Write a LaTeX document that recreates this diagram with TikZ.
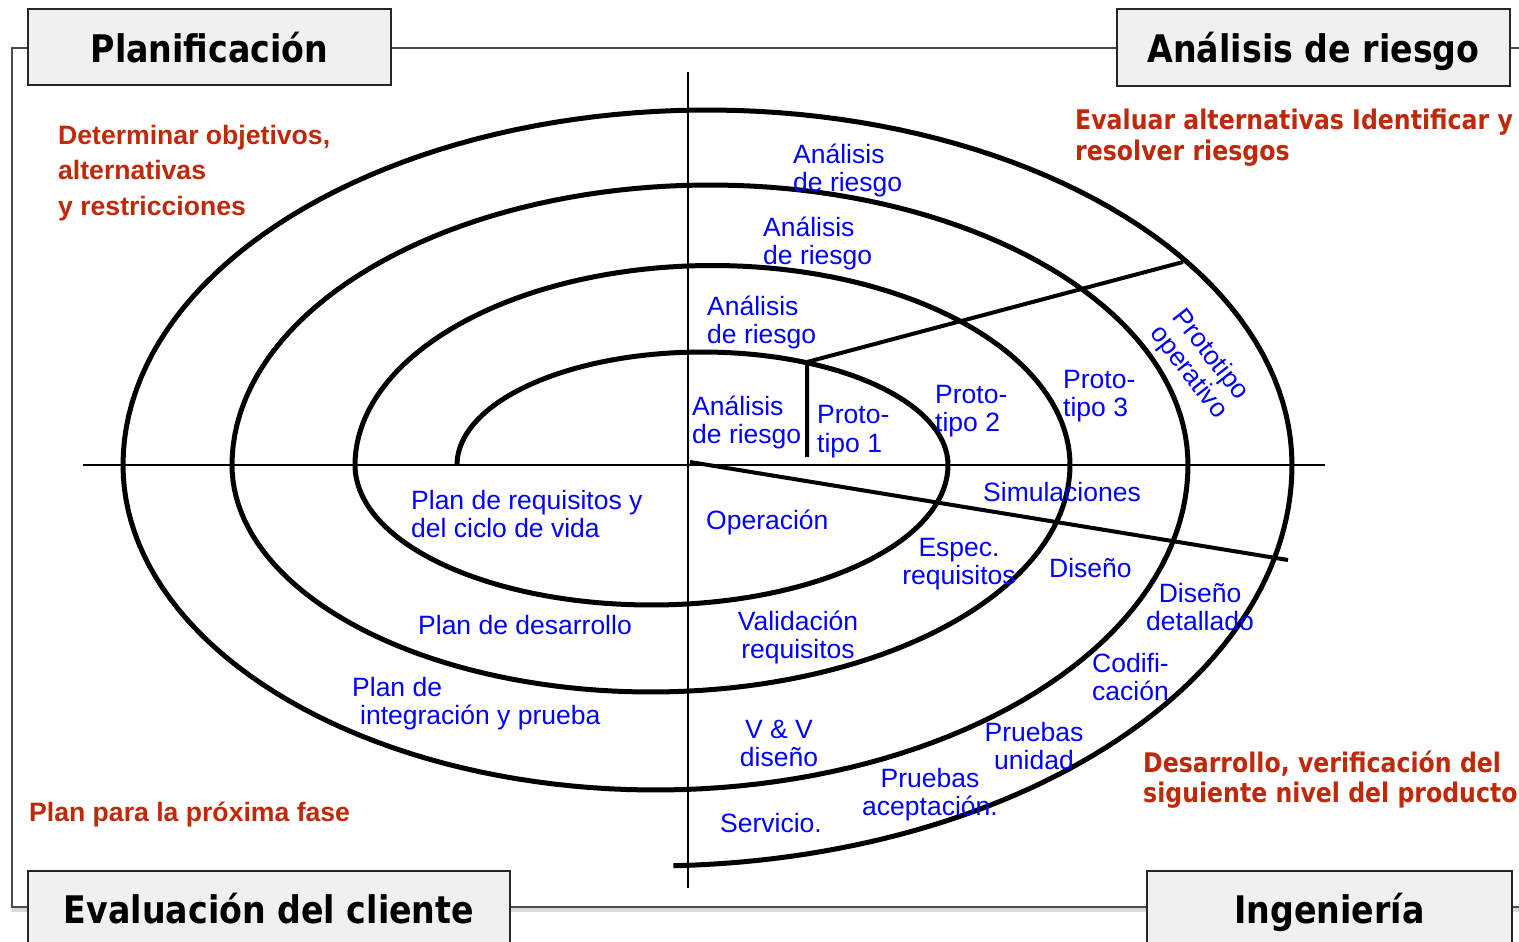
\documentclass[tikz,border=0pt]{standalone}
\usepackage{fontspec}
\setmainfont{Liberation Sans}
\newfontfamily\tah{DejaVu Sans}[FakeStretch=0.875]
\definecolor{redt}{HTML}{C0280A}
\definecolor{bluet}{HTML}{0000FF}
\definecolor{boxfill}{HTML}{F0F0F0}
\begin{document}
\begin{tikzpicture}[x=1pt,y=-1pt,
  hdr/.style={draw=black!85, line width=2pt, fill=boxfill, inner sep=0pt, anchor=north,
    font=\tah\bfseries\fontsize{38}{44}\selectfont},
  bt/.style={text=bluet, inner sep=0pt, anchor=base west, font=\fontsize{26.5}{28}\selectfont},
  btc/.style={bt, anchor=base},
  rt/.style={text=redt, inner sep=0pt, anchor=base west, font=\bfseries\fontsize{26.6}{33}\selectfont},
  rtt/.style={text=redt, inner sep=0pt, anchor=base west, font=\tah\bfseries\fontsize{27}{31}\selectfont},
  spiral/.style={line width=5pt},
  axisline/.style={line width=2pt},
  radial/.style={line width=4pt},
  frameline/.style={line width=1.5pt, draw=black!70}]
\useasboundingbox (0,0) rectangle (1519,942);
\fill[white] (0,0) rectangle (1519,942);

% frame
\coordinate (ftl) at (12,48);
\coordinate (ftr) at (1519,48);
\coordinate (fbl) at (12,907);
\coordinate (fbr) at (1519,907);
\draw[line width=4pt, draw=black!15] (12,910) -- (1519,910);
\draw[frameline] (ftr) -- (ftl) -- (fbl) -- (fbr);

% axes
\coordinate (hl) at (83,465);
\coordinate (hr) at (1325,465);
\coordinate (vt) at (688,72);
\coordinate (vb) at (688,888);
\draw[axisline] (hl) -- (hr);
\draw[axisline] (vt) -- (vb);

% spiral
\draw[spiral] plot[domain=180:0, samples=90] ({702.5+245.5*cos(\x)}, {465-113*sin(\x)});
\draw[spiral] plot[domain=0:180, samples=90] ({651.5+296.5*cos(\x)}, {465+140*sin(\x)});
\draw[spiral] plot[domain=180:0, samples=90] ({712.5+357.5*cos(\x)}, {465-199.5*sin(\x)});
\draw[spiral] plot[domain=0:180, samples=90] ({651+419*cos(\x)}, {465+227*sin(\x)});
\draw[spiral] plot[domain=180:0, samples=90] ({710+478*cos(\x)}, {465-280*sin(\x)});
\draw[spiral] plot[domain=0:180, samples=90] ({655.5+532.5*cos(\x)}, {465+325*sin(\x)});
\draw[spiral] plot[domain=180:0, samples=90] ({707.5+584.5*cos(\x)}, {465-355*sin(\x)});
\draw[spiral] plot[domain=0:88, samples=60] ({651+641*cos(\x)}, {465+401*sin(\x)});

% radial lines
\coordinate (r0) at (807,362);
\coordinate (r1) at (807,457);
\coordinate (r2) at (1183,262);
\coordinate (s0) at (690,462);
\coordinate (s1) at (1288,560);
\draw[radial] (r1) -- (r0) -- (r2);
\draw[radial] (s0) -- (s1);

% header boxes
\node[hdr, minimum width=363pt, text height=54pt, text depth=22pt] (plan) at (209.5,8) {Planificaci\'on};
\node[hdr, minimum width=393pt, text height=54pt, text depth=23pt] (anal) at (1313.5,8) {An\'alisis de riesgo};
\node[hdr, minimum width=482pt, text height=52pt, text depth=30pt] (eval) at (269,870) {Evaluaci\'on del cliente};
\node[hdr, minimum width=365pt, text height=52pt, text depth=30pt] (ing) at (1329.5,870) {Ingenier\'ia};

% red texts
\node[rt] (d1) at (58,144) {Determinar objetivos,};
\node[rt] (d2) at (58,179.5) {alternativas};
\node[rt] (d3) at (58,215) {y restricciones};
\node[rt] (pp) at (29,821) {Plan para la pr\'oxima fase};
\node[rtt] (e1) at (1075,129) {Evaluar alternativas Identificar y};
\node[rtt] (e2) at (1075,160) {resolver riesgos};
\node[rtt] (v1) at (1143,772) {Desarrollo, verificaci\'on del};
\node[rtt] (v2) at (1143,802) {siguiente nivel del producto};

% blue texts
\node[bt] (a1a) at (793,163) {An\'alisis};
\node[bt] (a1b) at (793,191) {de riesgo};
\node[bt] (a2a) at (763,236) {An\'alisis};
\node[bt] (a2b) at (763,264) {de riesgo};
\node[bt] (a3a) at (707,315) {An\'alisis};
\node[bt] (a3b) at (707,343) {de riesgo};
\node[bt] (a4a) at (692,415) {An\'alisis};
\node[bt] (a4b) at (692,443) {de riesgo};
\node[bt] (p1a) at (817,423) {Proto-};
\node[bt] (p1b) at (817,452) {tipo 1};
\node[bt] (p2a) at (935,403) {Proto-};
\node[bt] (p2b) at (935,431) {tipo 2};
\node[bt] (p3a) at (1063,388) {Proto-};
\node[bt] (p3b) at (1063,416) {tipo 3};
\node[bt, anchor=center, rotate=-52, align=center] (pop) at (1199,364) {Prototipo\\operativo};
\node[bt] (sim) at (983,501) {Simulaciones};
\node[bt] (ope) at (706,529) {Operaci\'on};
\node[bt] (pr1) at (411,509) {Plan de requisitos y};
\node[bt] (pr2) at (411,537) {del ciclo de vida};
\node[btc] (es1) at (959,556) {Espec.};
\node[btc] (es2) at (959,584) {requisitos};
\node[bt] (dis) at (1049,577) {Dise\~no};
\node[btc] (dd1) at (1200,602) {Dise\~no};
\node[btc] (dd2) at (1200,630) {detallado};
\node[bt] (co1) at (1092,672) {Codifi-};
\node[bt] (co2) at (1092,700) {caci\'on};
\node[btc] (pu1) at (1034,741) {Pruebas};
\node[btc] (pu2) at (1034,769) {unidad};
\node[btc] (pa1) at (930,787) {Pruebas};
\node[btc] (pa2) at (930,815) {aceptaci\'on.};
\node[bt] (ser) at (720,832) {Servicio.};
\node[btc] (vv1) at (779,738) {V \& V};
\node[btc] (vv2) at (779,766) {dise\~no};
\node[btc] (va1) at (798,630) {Validaci\'on};
\node[btc] (va2) at (798,658) {requisitos};
\node[bt] (pd) at (418,634) {Plan de desarrollo};
\node[bt] (pi1) at (352,696) {Plan de};
\node[bt] (pi2) at (360,724) {integraci\'on y prueba};
\end{tikzpicture}
\end{document}
